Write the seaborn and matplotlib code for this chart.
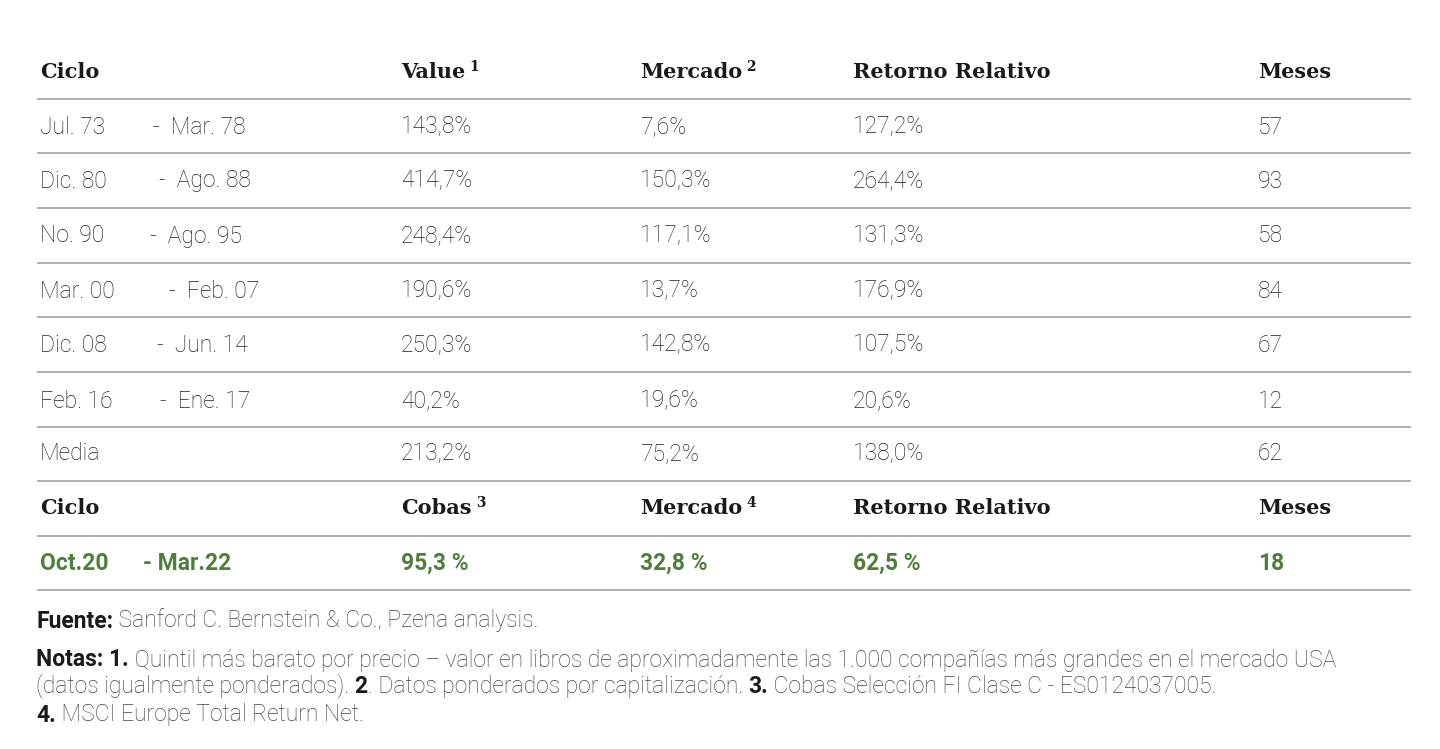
import matplotlib.pyplot as plt
import seaborn as sns

sns.set_theme(style='white')
plt.rcParams['font.family'] = ['Roboto', 'DejaVu Sans']

# table data
headers = ['Ciclo', 'Value', 'Mercado', 'Retorno Relativo', 'Meses']
header_sups = ['', '1', '2', '', '']
cycle_start = ['Jul. 73', 'Dic. 80', 'No. 90', 'Mar. 00', 'Dic. 08', 'Feb. 16', 'Media']
cycle_end = ['Mar. 78', 'Ago. 88', 'Ago. 95', 'Feb. 07', 'Jun. 14', 'Ene. 17', '']
value = ['143,8%', '414,7%', '248,4%', '190,6%', '250,3%', '40,2%', '213,2%']
mercado = ['7,6%', '150,3%', '117,1%', '13,7%', '142,8%', '19,6%', '75,2%']
retorno = ['127,2%', '264,4%', '131,3%', '176,9%', '107,5%', '20,6%', '138,0%']
meses = ['57', '93', '58', '84', '67', '12', '62']

headers2 = ['Ciclo', 'Cobas', 'Mercado', 'Retorno Relativo', 'Meses']
header2_sups = ['', '3', '4', '', '']
cobas_row = ['Oct.20', '- Mar.22', '95,3 %', '32,8 %', '62,5 %', '18']

# layout (pixels)
col_x = [40, 401, 640, 853, 1258]
dash_x = [153, 159, 150, 169, 157, 160]
row_y = [127, 181, 236, 291, 345, 401, 454]
line_y = [99, 153, 208, 263, 317, 372, 427, 481, 536, 590]
BODY = '#222222'
GREEN = '#4f7d3c'
GRAY = '#444444'

fig = plt.figure(figsize=(14.4, 7.49), dpi=100)
ax = fig.add_axes([0, 0, 1, 1])
ax.set_xlim(0, 1440)
ax.set_ylim(749, 0)
ax.axis('off')

for y in line_y:
    ax.plot([37, 1411], [y, y], color='#a8a8a8', lw=1.3, solid_capstyle='butt')


def header_row(y, labels, sups):
    for x, lab, sup in zip(col_x, labels, sups):
        t = ax.text(x, y, lab, fontsize=15, fontweight='bold', color='#1a1a1a',
                    va='center', family=['DejaVu Serif'])
        if sup:
            ax.annotate(' ' + sup, xy=(1, 0.75), xycoords=t, fontsize=10,
                        fontweight='bold', color='#1a1a1a', va='center',
                        family=['DejaVu Serif'])


header_row(72, headers, header_sups)

for i, y in enumerate(row_y):
    kw = dict(fontsize=16.5, color=BODY, va='center', fontweight='light')
    ax.text(col_x[0], y, cycle_start[i], **kw)
    if cycle_end[i]:
        ax.text(dash_x[i], y, '-  ' + cycle_end[i], **kw)
    ax.text(col_x[1], y, value[i], **kw)
    ax.text(col_x[2], y, mercado[i], **kw)
    ax.text(col_x[3], y, retorno[i], **kw)
    ax.text(col_x[4], y, meses[i], **kw)

header_row(508, headers2, header2_sups)

gkw = dict(fontsize=16.5, color=GREEN, va='center', fontweight='bold')
ax.text(col_x[0], 563, cobas_row[0], **gkw)
ax.text(143, 563, cobas_row[1], **gkw)
for x, s in zip(col_x[1:], cobas_row[2:]):
    ax.text(x, 563, s, **gkw)

# footnotes: list of (text, bold) pieces per line
notes = [
    (621, [('Fuente:', True), (' Sanford C. Bernstein & Co., Pzena analysis.', False)]),
    (660, [('Notas: 1.', True), (' Quintil más barato por precio – valor en libros de aproximadamente las 1.000 compañías más grandes en el mercado USA', False)]),
    (686, [('(datos igualmente ponderados). ', False), ('2', True), ('. Datos ponderados por capitalización. ', False),
           ('3.', True), (' Cobas Selección FI Clase C - ES0124037005.', False)]),
    (715, [('4.', True), (' MSCI Europe Total Return Net.', False)]),
]
for y, pieces in notes:
    prev = None
    for txt, bold in pieces:
        kw = dict(fontsize=16.5, color='#1a1a1a' if bold else GRAY,
                  fontweight='bold' if bold else 'light')
        if prev is None:
            prev = ax.text(36, y, txt, va='center', **kw)
        else:
            prev = ax.annotate(txt, xy=(1, 0), xycoords=prev, va='bottom', **kw)

fig.savefig('out.png', dpi=100, facecolor='white')
